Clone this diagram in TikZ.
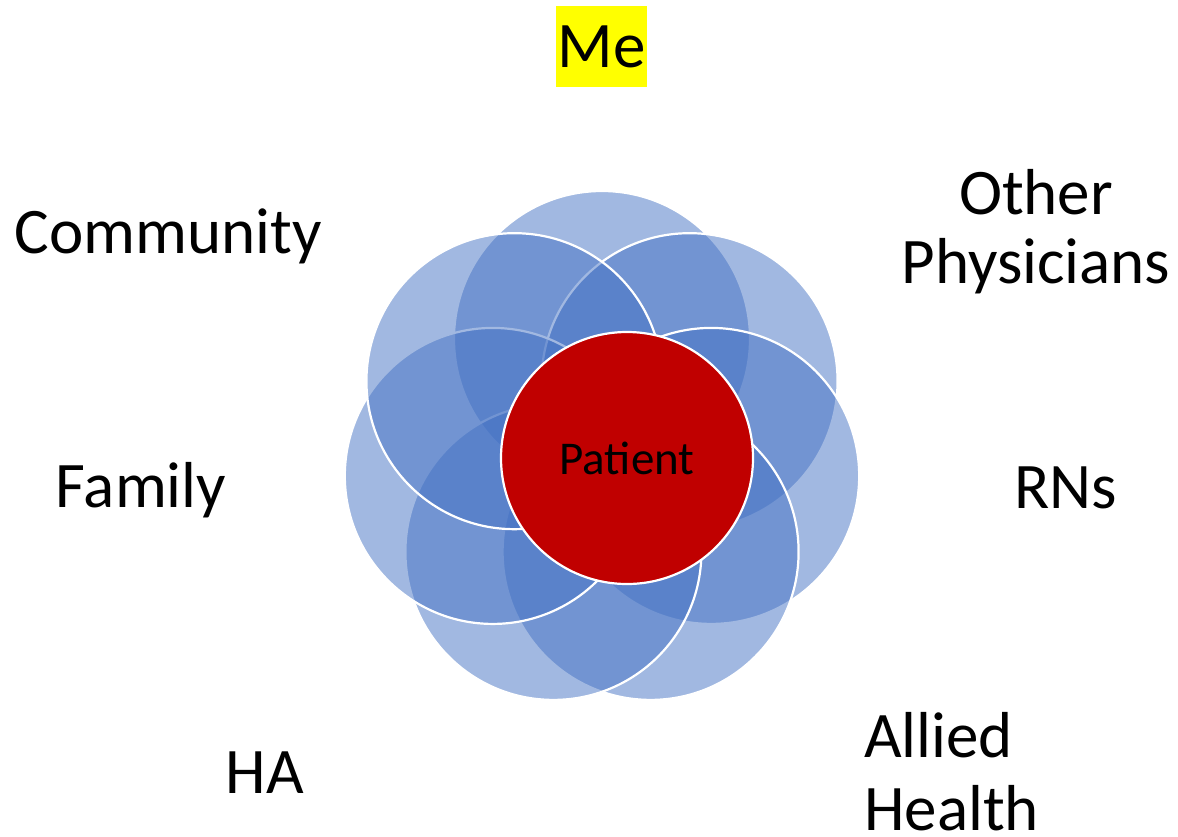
\documentclass[tikz,border=0pt]{standalone}
\usepackage{fontspec}
\setmainfont{Carlito}
\definecolor{petalblue}{HTML}{4472C4}
\definecolor{coreRed}{HTML}{C00000}
\definecolor{hiYellow}{HTML}{FFFF00}
\begin{document}
\begin{tikzpicture}[x=1pt,y=-1pt,
  petal/.style={circle, fill=petalblue, fill opacity=0.5, draw=white, line width=2.2pt, minimum size=296pt, inner sep=0pt},
  corecircle/.style={circle, fill=coreRed, draw=white, line width=2.2pt, minimum size=252pt, inner sep=0pt, text=black, font=\fontsize{47}{56}\selectfont},
  biglabel/.style={inner sep=0pt, text=black, font=\fontsize{65}{72}\selectfont}]
\useasboundingbox (0,0) rectangle (1178,836);
\fill[white] (0,0) rectangle (1178,836);
% petals, drawn clockwise from the top
\foreach \k in {0,...,6}{
  \node[petal] (p\k) at ({602+112*cos(90-\k*360/7)},{451-112*sin(90-\k*360/7)}) {};
}
\node[corecircle] (patient) at (627,458) {Patient};
% labels
\node[biglabel, fill=hiYellow, minimum width=91pt, minimum height=81pt] (me) at (601.5,46.5) {Me};
\node[biglabel, anchor=base] (community) at (168,253) {Community};
\node[biglabel, anchor=base] (others) at (1036,214) {\fontsize{65}{69}\selectfont\begin{tabular}[t]{@{}c@{}}Other\\Physicians\end{tabular}};
\node[biglabel, anchor=base] (family) at (141,507) {Family};
\node[biglabel, anchor=base] (rns) at (1066,508) {RNs};
\node[biglabel, anchor=base] (ha) at (265,793) {HA};
\node[biglabel, anchor=base west] (allied) at (864,757) {\fontsize{65}{73}\selectfont\begin{tabular}[t]{@{}l@{}}Allied\\Health\end{tabular}};
\end{tikzpicture}
\end{document}
